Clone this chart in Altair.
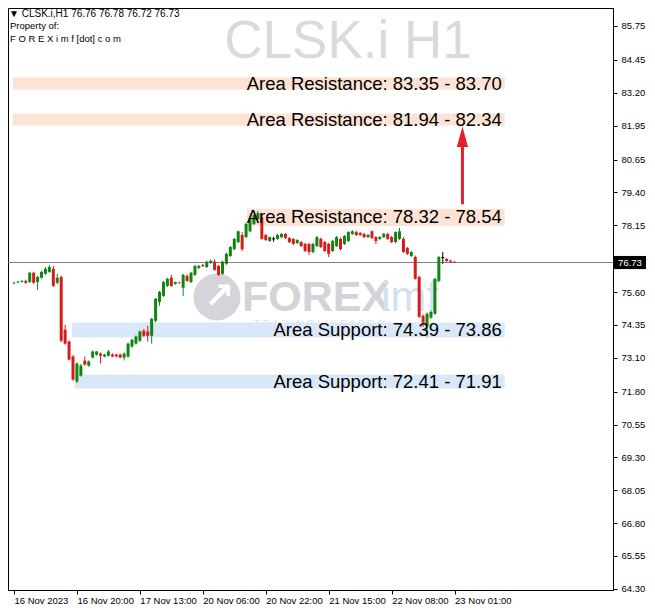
import altair as alt
import pandas as pd

symbol = "CLSK.i"
timeframe = "H1"

opens = [75.94, 75.97, 76.00, 76.03, 75.99, 76.34, 75.99, 76.15, 76.30, 76.37,
         76.49, 75.96, 76.18, 74.17, 73.72, 73.15, 72.20, 72.42, 72.99, 72.80,
         73.11, 73.22, 73.26, 73.15, 73.18, 73.22, 73.22, 73.22, 73.11, 73.15,
         73.53, 73.64, 73.75, 74.13, 74.10, 73.94, 74.51, 75.23, 75.46, 75.84,
         76.15, 75.92, 75.97, 75.77, 76.22, 75.99, 76.26, 76.52, 76.64, 76.56,
         76.72, 76.76, 76.60, 76.30, 76.68, 76.98, 77.24, 77.51, 77.78, 77.70,
         77.92, 78.20, 78.39, 78.45, 77.78, 77.55, 77.63, 77.63, 77.70, 77.82,
         77.66, 77.63, 77.47, 77.51, 77.44, 77.44, 77.13, 77.36, 77.63, 77.51,
         77.44, 77.17, 77.36, 77.63, 77.44, 77.55, 77.82, 77.89, 77.85, 77.82,
         77.70, 77.92, 77.70, 77.63, 77.70, 77.82, 77.70, 77.51, 77.63, 77.63,
         77.28, 76.98, 76.94, 76.18, 74.70, 74.32, 74.63, 74.78, 76.03, 76.92,
         76.87, 76.80, 76.76]
highs = [76.00, 76.03, 76.06, 76.07, 76.38, 76.38, 76.22, 76.42, 76.56, 76.64,
         76.60, 76.30, 76.22, 74.36, 73.76, 73.20, 72.92, 72.86, 73.15, 73.00,
         73.38, 73.36, 73.30, 73.25, 73.40, 73.28, 73.26, 73.26, 73.30, 73.68,
         73.83, 73.95, 74.14, 74.20, 74.32, 74.62, 75.38, 75.65, 76.03, 76.15,
         76.26, 76.00, 76.00, 76.30, 76.28, 76.38, 76.64, 76.64, 76.68, 76.80,
         76.85, 76.85, 76.64, 76.80, 77.10, 77.36, 77.66, 77.95, 77.89, 78.24,
         78.39, 78.56, 78.69, 78.61, 77.82, 77.72, 77.72, 77.82, 77.86, 77.86,
         77.70, 77.66, 77.62, 77.55, 77.48, 77.48, 77.48, 77.74, 77.68, 77.55,
         77.48, 77.59, 77.74, 77.68, 77.78, 77.92, 77.96, 77.95, 77.89, 77.86,
         77.82, 77.96, 77.74, 77.74, 77.86, 77.86, 77.74, 77.92, 78.05, 77.70,
         77.32, 77.17, 77.00, 76.22, 74.75, 74.82, 74.90, 76.15, 76.98, 77.13,
         76.90, 76.84, 76.78]
lows = [75.90, 75.94, 75.97, 75.92, 75.95, 75.92, 75.69, 76.12, 76.26, 76.34,
        75.80, 75.90, 73.70, 73.60, 73.00, 72.22, 72.14, 72.38, 72.80, 72.76,
        73.08, 73.18, 72.88, 73.12, 73.15, 73.12, 73.12, 73.08, 73.00, 73.10,
        73.48, 73.60, 73.70, 73.90, 73.72, 73.64, 74.45, 75.08, 75.42, 75.80,
        75.80, 75.88, 75.92, 75.46, 76.00, 75.95, 76.22, 76.48, 76.56, 76.52,
        76.68, 76.42, 76.22, 76.26, 76.64, 76.94, 77.20, 77.47, 77.17, 77.66,
        77.88, 78.16, 78.35, 77.60, 77.55, 77.52, 77.52, 77.60, 77.66, 77.63,
        77.47, 77.40, 77.44, 77.32, 77.13, 77.02, 77.08, 77.32, 77.28, 77.13,
        76.94, 77.13, 77.32, 77.20, 77.40, 77.51, 77.78, 77.74, 77.74, 77.66,
        77.66, 77.63, 77.44, 77.59, 77.66, 77.59, 77.47, 77.47, 77.59, 77.10,
        77.02, 76.94, 76.08, 74.62, 74.28, 73.91, 74.58, 74.74, 75.99, 76.68,
        76.76, 76.72, 76.72]
closes = [75.96, 76.00, 76.03, 75.96, 76.34, 75.96, 76.18, 76.37, 76.49, 76.56,
          75.84, 76.15, 73.75, 73.64, 73.03, 72.27, 72.88, 72.80, 72.84, 72.96,
          73.34, 73.34, 73.18, 73.22, 73.34, 73.15, 73.15, 73.11, 73.26, 73.64,
          73.79, 73.91, 74.10, 73.94, 73.94, 74.59, 75.35, 75.61, 75.99, 76.11,
          75.84, 75.99, 75.95, 76.26, 76.03, 76.34, 76.60, 76.60, 76.60, 76.76,
          76.79, 76.45, 76.26, 76.76, 77.06, 77.32, 77.63, 77.92, 77.24, 78.20,
          78.35, 78.53, 78.61, 77.63, 77.59, 77.70, 77.63, 77.78, 77.82, 77.66,
          77.51, 77.44, 77.59, 77.36, 77.17, 77.13, 77.44, 77.70, 77.32, 77.17,
          77.06, 77.55, 77.70, 77.24, 77.74, 77.89, 77.92, 77.78, 77.78, 77.70,
          77.78, 77.66, 77.55, 77.70, 77.82, 77.63, 77.51, 77.89, 77.92, 77.13,
          77.06, 77.13, 76.11, 74.66, 74.44, 74.78, 74.85, 76.11, 76.94, 76.92,
          76.79, 76.76, 76.73]

tick_idx = [0, 16, 32, 48, 64, 80, 96, 112]
tick_labels = ["16 Nov 2023", "16 Nov 20:00", "17 Nov 13:00", "20 Nov 06:00",
               "20 Nov 22:00", "21 Nov 15:00", "22 Nov 08:00", "23 Nov 01:00"]
y_ticks = [85.75, 84.45, 83.20, 81.95, 80.65, 79.40, 78.15, 76.90, 75.60, 74.35,
           73.10, 71.80, 70.55, 69.30, 68.05, 66.80, 65.55, 64.30]

zone_kind = ["Area Resistance", "Area Resistance", "Area Resistance", "Area Support", "Area Support"]
zone_first = ["83.35", "81.94", "78.32", "74.39", "72.41"]
zone_second = ["83.70", "82.34", "78.54", "73.86", "71.91"]
zone_top = [83.78, 82.41, 78.78, 74.44, 72.46]
zone_bottom = [83.32, 81.95, 78.12, 73.87, 71.93]
zone_start = [-0.25, -0.25, 59.25, 14.75, 15.5]
zone_end = [124.75, 124.75, 124.75, 124.75, 124.75]
zone_label_at = [124, 124, 124, 124, 124]
zone_fill = {"Area Resistance": "#fde3d6", "Area Support": "#d8e8f8"}

arrow_at = [114]
arrow_from = [78.95]
arrow_to = [81.25]
arrow_tip = [81.52]

# ---------------- tables ----------------
n = len(opens)
dirs = ["up" if c > o else ("down" if c < o else "flat") for o, c in zip(opens, closes)]
cmap = {"up": "#138413", "down": "#d81a1a", "flat": "#000000"}
tops = [max(o, c) + (0.02 if o == c else 0) for o, c in zip(opens, closes)]
bots = [min(o, c) - (0.02 if o == c else 0) for o, c in zip(opens, closes)]
df = pd.DataFrame({"i": list(range(n)), "o": opens, "h": highs, "l": lows, "c": closes,
                   "col": [cmap[d] for d in dirs], "top": tops, "bot": bots})

zones = pd.DataFrame({
    "kind": zone_kind,
    "fill": [zone_fill[k] for k in zone_kind],
    "top": zone_top, "bot": zone_bottom,
    "x0": zone_start, "x1": zone_end, "lx": zone_label_at,
    "label": [f"{k}: {a} - {b}" for k, a, b in zip(zone_kind, zone_first, zone_second)],
})
zones["mid"] = (zones["top"] + zones["bot"]) / 2

last = df.iloc[[-1]].copy()
last["btop"] = last["c"] + 0.25
last["bbot"] = last["c"] - 0.25
last["txt"] = last["c"].map(lambda v: f"{v:.2f}")

arrow = pd.DataFrame({"x": arrow_at, "y0": arrow_from, "y1": arrow_to, "tip": arrow_tip})

W, H = 605, 582
xs = alt.Scale(domain=[-0.25, 151], nice=False, zero=False)
ys = alt.Scale(domain=[64.25, 86.43], nice=False, zero=False)
FONT = "Liberation Sans"

label_js = "[" + ",".join(f"'{t}'" for t in tick_labels) + "]"
idx_js = "[" + ",".join(str(t) for t in tick_idx) + "]"
x_axis = alt.Axis(values=tick_idx, labelExpr=f"{label_js}[indexof({idx_js}, datum.value)]",
                  title=None, grid=False, labelAlign="left", labelFont=FONT, labelFontSize=9.5,
                  labelColor="#000000", tickColor="#000000", domainColor="#000000",
                  tickSize=4, labelPadding=1, labelFlush=False, labelOverlap=False)
y_axis = alt.Axis(orient="right", values=y_ticks, format=".2f", title=None, grid=False,
                  labelFont=FONT, labelFontSize=9.5, labelColor="#000000",
                  tickColor="#000000", domainColor="#000000", tickSize=4, labelPadding=4,
                  labelFlush=False, labelOverlap=False)

X = lambda f: alt.X(f, scale=xs, axis=x_axis)
Y = lambda f: alt.Y(f, scale=ys, axis=y_axis)


def label_layer(text, x, y, **kw):
    return alt.Chart(pd.DataFrame({"t": [text]})).mark_text(**kw).encode(
        x=alt.value(x), y=alt.value(y), text="t:N")


# watermark / logo
wm = label_layer(f"{symbol} {timeframe}", 340, 34, font=FONT, fontSize=53, color="#dadada",
                 align="center", baseline="middle")
logo_circle = alt.Chart(pd.DataFrame({"t": [""]})).mark_point(
    shape="circle", filled=True, size=2200, color="#d4d4da", opacity=1
).encode(x=alt.value(209), y=alt.value(289))
logo_arrow = label_layer("\u2197", 211, 289, font="DejaVu Sans", fontSize=36, fontWeight="bold",
                         color="#ffffff", align="center", baseline="middle")
logo_forex = label_layer("FOREX", 234, 290, font=FONT, fontSize=43, fontWeight="bold",
                         color="#d3d3d9", align="left", baseline="middle")
logo_imf = label_layer("imf", 373, 290, font=FONT, fontSize=43, color="#d3e1ef",
                       align="left", baseline="middle")
logo_tag = label_layer("T R A D I N G   L I K E   A   P R O", 246, 317, font=FONT, fontSize=10,
                       color="#e2e2e2", align="left", baseline="middle")

bands = alt.Chart(zones).mark_rect().encode(
    x=X("x0:Q"), x2="x1:Q", y=Y("top:Q"), y2="bot:Q",
    color=alt.Color("fill:N", scale=None, legend=None)
)

price_line = alt.Chart(last).mark_rule(color="#808080", strokeWidth=1).encode(y=Y("c:Q"))

wicks = alt.Chart(df).mark_rule(strokeWidth=1).encode(
    x=X("i:Q"), y=Y("l:Q"), y2="h:Q",
    color=alt.Color("col:N", scale=None, legend=None)
)
bodies = alt.Chart(df).mark_bar(size=3, opacity=1).encode(
    x=X("i:Q"), y=Y("bot:Q"), y2="top:Q",
    color=alt.Color("col:N", scale=None, legend=None)
)

zone_text = alt.Chart(zones).mark_text(
    font=FONT, fontSize=18.5, color="#000000", align="right", baseline="middle"
).encode(x=X("lx:Q"), y=Y("mid:Q"), text="label:N")

arrow_shaft = alt.Chart(arrow).mark_rule(color="#e3202b", strokeWidth=3).encode(
    x=X("x:Q"), y=Y("y0:Q"), y2="y1:Q")
arrow_head = alt.Chart(arrow).mark_point(
    shape="M-0.55,1L0,-1L0.55,1Z", filled=True, size=420, color="#e3202b", opacity=1
).encode(x=X("x:Q"), y=Y("tip:Q"))

hdr1 = label_layer(f"\u25BC {symbol},{timeframe}  {opens[-1]:.2f} {highs[-1]:.2f} {lows[-1]:.2f} {closes[-1]:.2f}",
                   1, 6, font=FONT, fontSize=10, color="#000000", align="left", baseline="middle")
hdr2 = label_layer("Property of:", 2, 18, font=FONT, fontSize=9.5, color="#000000",
                   align="left", baseline="middle")
hdr3 = label_layer("F O R E X i m f [dot] c o m", 2, 31, font=FONT, fontSize=9.5, color="#000000",
                   align="left", baseline="middle")

shift_mark = alt.Chart(pd.DataFrame({"t": [""]})).mark_point(
    shape="triangle-down", filled=True, size=50, color="#9a9a9a", opacity=1
).encode(x=alt.value(480), y=alt.value(-3))

box = alt.Chart(last).mark_rect(color="#000000").encode(
    x=alt.value(W + 1), x2=alt.value(W + 33), y=Y("btop:Q"), y2="bbot:Q")
box_text = alt.Chart(last).mark_text(
    font=FONT, fontSize=9.5, color="#ffffff", align="center", baseline="middle"
).encode(x=alt.value(W + 17), y=Y("c:Q"), text="txt:N")

chart = alt.layer(
    wm, logo_circle, logo_arrow, logo_forex, logo_imf, logo_tag,
    bands, price_line, wicks, bodies, zone_text, arrow_shaft, arrow_head,
    hdr1, hdr2, hdr3, shift_mark, box, box_text
).properties(
    width=W, height=H, background="#ffffff",
    autosize=alt.AutoSizeParams(type="none"),
    padding={"left": 0, "top": 0, "right": 34, "bottom": 16}
).configure_view(stroke="#000000", strokeWidth=1)

chart.save("out.html", embed_options={"renderer": "svg", "actions": False})
